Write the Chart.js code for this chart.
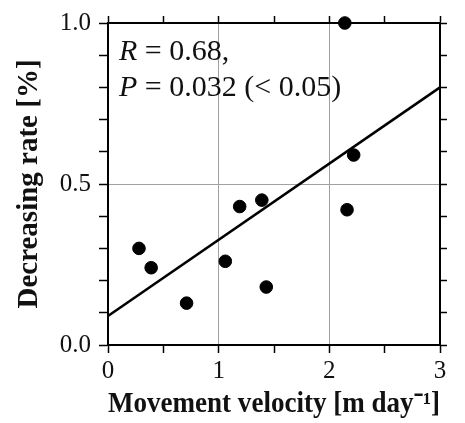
<!DOCTYPE html>
<html>
<head>
<meta charset="utf-8">
<script src="https://cdn.jsdelivr.net/npm/chart.js@4/dist/chart.umd.min.js"></script>
<style>
html, body { margin: 0; padding: 0; background: #fff; }
#wrap { width: 465px; height: 423px; }
</style>
</head>
<body>
<div id="wrap"><canvas id="velChart"></canvas></div>
<script>
// movement velocity [m/day] vs decreasing rate [%]
var velocity = [0.28, 0.39, 0.71, 1.06, 1.19, 1.39, 1.43, 2.14, 2.16, 2.22]
var decRate  = [0.30, 0.24, 0.13, 0.26, 0.43, 0.45, 0.18, 1.00, 0.42, 0.59]

// regression line end points
var fitX = [0, 3]
var fitY = [0.09, 0.80]

var xTickLabels = ['0', '1', '2', '3']
var yTickLabels = ['0.0', '0.5', '1.0']

// stats text: [italic part, normal part]
var statsLines = [['R', ' = 0.68,'], ['P', ' = 0.032 (< 0.05)']]

var serif = "'Liberation Serif', 'Times New Roman', serif"

var points = []
for (var i = 0; i < velocity.length; i++) {
    points.push({ x: velocity[i], y: decRate[i] })
}
var fitLine = []
for (var j = 0; j < fitX.length; j++) {
    fitLine.push({ x: fitX[j], y: fitY[j] })
}

function near(a, b) { return Math.abs(a - b) < 1e-6 }

var statsPlugin = {
    id: 'statsText',
    afterDatasetsDraw: function(chart) {
        var c = chart.ctx
        var area = chart.chartArea
        c.save()
        c.fillStyle = '#111'
        c.textBaseline = 'alphabetic'
        for (var k = 0; k < statsLines.length; k++) {
            var x = area.left + 11
            var y = area.top + 37 + k * 35.5
            c.font = 'italic 30px ' + serif
            c.fillText(statsLines[k][0], x, y)
            x += c.measureText(statsLines[k][0]).width
            c.font = '30px ' + serif
            c.fillText(statsLines[k][1], x, y)
        }
        c.restore()
    }
}

var ctx = document.getElementById('velChart').getContext('2d')
var velChart = new Chart(ctx, {
    type: 'scatter',
    data: {
        datasets: [{
            label: 'sites',
            data: points,
            backgroundColor: '#000',
            borderColor: '#000',
            pointRadius: 6.3,
            pointHoverRadius: 6.3,
            clip: false,
            order: 1
        }, {
            type: 'line',
            label: 'fit',
            data: fitLine,
            borderColor: '#000',
            borderWidth: 2.5,
            pointRadius: 0,
            fill: false,
            tension: 0,
            order: 2
        }]
    },
    options: {
        responsive: true,
        maintainAspectRatio: false,
        animation: false,
        events: [],
        layout: { padding: 0 },
        plugins: {
            legend: { display: false },
            tooltip: { enabled: false }
        },
        scales: {
            x: {
                type: 'linear',
                position: 'bottom',
                min: 0,
                max: 3,
                afterFit: function(s) { s.height = 78 },
                ticks: {
                    stepSize: 0.5,
                    autoSkip: false,
                    maxRotation: 0,
                    padding: 3,
                    color: '#111',
                    font: { family: serif, size: 25 },
                    callback: function(v) {
                        return near(v, Math.round(v)) ? xTickLabels[Math.round(v)] : ''
                    }
                },
                grid: {
                    color: function(c) {
                        var v = c.tick ? c.tick.value : 0
                        return (near(v, 1) || near(v, 2)) ? '#a0a0a0' : 'rgba(0,0,0,0)'
                    },
                    lineWidth: 1,
                    tickColor: '#000',
                    tickLength: 8,
                    tickWidth: 1.5
                },
                border: { display: true, color: '#000', width: 2 },
                title: {
                    display: true,
                    text: 'Movement velocity [m day\u207B\u00B9]',
                    color: '#111',
                    font: { family: serif, size: 29, weight: 'bold' },
                    padding: { top: 0, bottom: 1 }
                }
            },
            x2: {
                type: 'linear',
                position: 'top',
                min: 0,
                max: 3,
                afterFit: function(s) { s.height = 16 },
                ticks: {
                    stepSize: 0.5,
                    autoSkip: false,
                    maxRotation: 0,
                    callback: function() { return '' }
                },
                grid: {
                    drawOnChartArea: false,
                    tickColor: '#000',
                    tickLength: 7,
                    tickWidth: 1.5
                },
                border: { display: true, color: '#000', width: 2 }
            },
            y: {
                type: 'linear',
                position: 'left',
                min: 0,
                max: 1,
                afterFit: function(s) { s.width = 108 },
                ticks: {
                    stepSize: 0.1,
                    autoSkip: false,
                    padding: 8,
                    color: '#111',
                    font: { family: serif, size: 25 },
                    callback: function(v) {
                        var h = v * 2
                        return near(h, Math.round(h)) ? yTickLabels[Math.round(h)] : ''
                    }
                },
                grid: {
                    color: function(c) {
                        var v = c.tick ? c.tick.value : 0
                        return near(v, 0.5) ? '#a0a0a0' : 'rgba(0,0,0,0)'
                    },
                    lineWidth: 1,
                    tickColor: '#000',
                    tickLength: 9,
                    tickWidth: 1.5
                },
                border: { display: true, color: '#000', width: 2 },
                title: {
                    display: true,
                    text: 'Decreasing rate [%]',
                    color: '#111',
                    font: { family: serif, size: 29, weight: 'bold' },
                    padding: { top: 12, bottom: 0 }
                }
            },
            y2: {
                type: 'linear',
                position: 'right',
                min: 0,
                max: 1,
                afterFit: function(s) { s.width = 25 },
                ticks: {
                    stepSize: 0.1,
                    autoSkip: false,
                    callback: function() { return '' }
                },
                grid: {
                    drawOnChartArea: false,
                    tickColor: '#000',
                    tickLength: 7,
                    tickWidth: 1.5
                },
                border: { display: true, color: '#000', width: 2 }
            }
        }
    },
    plugins: [statsPlugin]
})
</script>
</body>
</html>
